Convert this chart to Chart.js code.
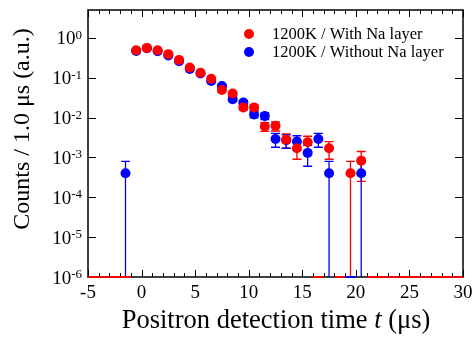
<!DOCTYPE html>
<html>
<head>
<meta charset="utf-8">
<script src="https://cdn.jsdelivr.net/npm/chart.js@4.4.1/dist/chart.umd.min.js"></script>
<style>
  html, body { margin: 0; padding: 0; background: #fff; }
</style>
</head>
<body>
<canvas id="chart" width="476" height="343"></canvas>
<script>
// bin centres (1.0 us bins)
const binCenters = [
  -4.5, -3.5, -2.5, -1.5, -0.5, 0.5, 1.5, 2.5, 3.5, 4.5, 5.5, 6.5, 7.5, 8.5,
  9.5, 10.5, 11.5, 12.5, 13.5, 14.5, 15.5, 16.5, 17.5, 18.5, 19.5, 20.5,
  21.5, 22.5, 23.5, 24.5, 25.5, 26.5, 27.5, 28.5, 29.5,
];

// 1200K / With Na layer
const withNa = [
  0, 0, 0, 0, 0.49, 0.56, 0.49, 0.39, 0.28, 0.18, 0.133, 0.094, 0.049, 0.04,
  0.018, 0.018, 0.006, 0.0062, 0.0028, 0.0017, 0.0024, 0, 0.0017, 0, 0.0004, 0.00083,
  0, 0, 0, 0, 0, 0, 0, 0, 0,
];
const withNaErr = [
  0, 0, 0, 0, 0.014, 0.015, 0.014, 0.012, 0.011, 0.0085, 0.0073, 0.0061, 0.0044, 0.004,
  0.0027, 0.0027, 0.0015, 0.0016, 0.0011, 0.0008, 0.001, 0, 0.0008, 0, 0.0004, 0.00058,
  0, 0, 0, 0, 0, 0, 0, 0, 0,
];

// 1200K / Without Na layer
const withoutNa = [
  0, 0, 0, 0.0004, 0.47, 0.55, 0.46, 0.36, 0.26, 0.165, 0.128, 0.083, 0.062, 0.029,
  0.024, 0.012, 0.011, 0.0029, 0.0027, 0.0025, 0.0013, 0.0029, 0.0004, 0, 0, 0.0004,
  0, 0, 0, 0, 0, 0, 0, 0, 0,
];
const withoutNaErr = [
  0, 0, 0, 0.0004, 0.0137, 0.0148, 0.0136, 0.012, 0.0102, 0.0081, 0.0072, 0.0058, 0.005, 0.0034,
  0.0031, 0.0022, 0.0021, 0.0011, 0.001, 0.001, 0.0007, 0.0011, 0.0004, 0, 0, 0.0004,
  0, 0, 0, 0, 0, 0, 0, 0, 0,
];

const xTicks = [-5, 0, 5, 10, 15, 20, 25, 30];
const yExponents = [0, -1, -2, -3, -4, -5, -6];
const yMin = 1e-6;
const yMax = 5;

const SERIF = '"Liberation Serif", "Times New Roman", serif';

// zero-count bins sit on the axis floor
const toPoints = (values) =>
  values.map((v, i) => ({ x: binCenters[i], y: v > 0 ? v : yMin }));

const makeDataset = (label, values, errors, color) => ({
  label,
  data: toPoints(values),
  errors,
  values,
  backgroundColor: color,
  borderColor: color,
  pointStyle: (ctx) => (values[ctx.dataIndex] === 0 ? 'line' : 'circle'),
  pointRadius: 5,
  pointBorderWidth: (ctx) => (values[ctx.dataIndex] === 0 ? 2 : 0),
  pointHoverRadius: 5,
  clip: false,
});

const framePlugin = {
  id: 'frame',
  beforeDatasetsDraw(chart) {
    const { ctx, chartArea: a, scales } = chart;
    const x = scales.x;
    const y = scales.y;
    ctx.save();

    // box
    ctx.strokeStyle = '#000';
    ctx.lineWidth = 1.5;
    ctx.strokeRect(a.left, a.top, a.right - a.left, a.bottom - a.top);

    // x ticks, inward on bottom and top
    ctx.lineWidth = 1;
    for (let v = -5; v <= 30; v++) {
      const px = Math.round(x.getPixelForValue(v)) + 0.5;
      const len = v % 5 === 0 ? 7 : 4;
      ctx.beginPath();
      ctx.moveTo(px, a.bottom);
      ctx.lineTo(px, a.bottom - len);
      ctx.moveTo(px, a.top);
      ctx.lineTo(px, a.top + len);
      ctx.stroke();
    }
    // y ticks, inward on left and right
    yExponents.forEach((e) => {
      const py = Math.round(y.getPixelForValue(Math.pow(10, e))) + 0.5;
      ctx.beginPath();
      ctx.moveTo(a.left, py);
      ctx.lineTo(a.left + 8, py);
      ctx.moveTo(a.right, py);
      ctx.lineTo(a.right - 8, py);
      ctx.stroke();
    });

    // error bars
    chart.data.datasets.forEach((ds, di) => {
      const meta = chart.getDatasetMeta(di);
      ctx.strokeStyle = ds.borderColor;
      ctx.lineWidth = 1.3;
      ds.values.forEach((v, i) => {
        const err = ds.errors[i];
        if (!(v > 0) || !(err > 0)) return;
        const px = meta.data[i].x;
        const yTop = y.getPixelForValue(v + err);
        const lower = v - err;
        const hasLow = lower > yMin;
        const yBot = hasLow ? y.getPixelForValue(lower) : a.bottom;
        ctx.beginPath();
        ctx.moveTo(px, yTop);
        ctx.lineTo(px, yBot);
        ctx.moveTo(px - 4.5, yTop);
        ctx.lineTo(px + 4.5, yTop);
        if (hasLow) {
          ctx.moveTo(px - 4.5, yBot);
          ctx.lineTo(px + 4.5, yBot);
        }
        ctx.stroke();
      });
    });
    ctx.restore();
  },
  afterDraw(chart) {
    const { ctx, chartArea: a, scales } = chart;
    const x = scales.x;
    const y = scales.y;
    ctx.save();
    ctx.fillStyle = '#000';

    // x tick labels
    ctx.font = '19px ' + SERIF;
    ctx.textAlign = 'center';
    ctx.textBaseline = 'alphabetic';
    xTicks.forEach((t) => {
      ctx.fillText(String(t), x.getPixelForValue(t), 298);
    });

    // y tick labels 10^n
    yExponents.forEach((e) => {
      const py = y.getPixelForValue(Math.pow(10, e));
      const sup = String(e);
      ctx.font = '13px ' + SERIF;
      const supW = ctx.measureText(sup).width;
      ctx.textAlign = 'left';
      ctx.fillText(sup, 82 - supW, py + 1);
      ctx.font = '19px ' + SERIF;
      ctx.textAlign = 'right';
      ctx.fillText('10', 82 - supW, py + 6.5);
    });

    // x axis title with italic t
    const parts = [
      ['Positron detection time ', '26.5px ' + SERIF],
      ['t', 'italic 26.5px ' + SERIF],
      [' (μs)', '26.5px ' + SERIF],
    ];
    let total = 0;
    parts.forEach(([s, f]) => {
      ctx.font = f;
      total += ctx.measureText(s).width;
    });
    let cx = 276 - total / 2;
    ctx.textAlign = 'left';
    parts.forEach(([s, f]) => {
      ctx.font = f;
      ctx.fillText(s, cx, 328);
      cx += ctx.measureText(s).width;
    });

    // y axis title
    ctx.save();
    ctx.translate(29, 129);
    ctx.rotate(-Math.PI / 2);
    ctx.font = '24px ' + SERIF;
    ctx.textAlign = 'center';
    ctx.fillText('Counts / 1.0 μs (a.u.)', 0, 0);
    ctx.restore();

    // legend
    ctx.font = '16.5px ' + SERIF;
    ctx.textAlign = 'left';
    ctx.textBaseline = 'middle';
    chart.data.datasets.forEach((ds, i) => {
      const ly = 34 + i * 18;
      ctx.fillStyle = ds.backgroundColor;
      ctx.beginPath();
      ctx.arc(249, ly, 5, 0, Math.PI * 2);
      ctx.fill();
      ctx.fillStyle = '#000';
      ctx.fillText(ds.label, 272, ly + 1);
    });
    ctx.restore();
  },
};

new Chart(document.getElementById('chart'), {
  type: 'scatter',
  data: {
    datasets: [
      makeDataset('1200K / With Na layer', withNa, withNaErr, '#ff0000'),
      makeDataset('1200K / Without Na layer', withoutNa, withoutNaErr, '#0000ff'),
    ],
  },
  options: {
    responsive: false,
    devicePixelRatio: 1,
    animation: false,
    layout: { padding: { left: 88, right: 13, top: 10, bottom: 66 } },
    scales: {
      x: { type: 'linear', min: -5, max: 30, display: false },
      y: { type: 'logarithmic', min: yMin, max: yMax, display: false },
    },
    plugins: {
      legend: { display: false },
      tooltip: { enabled: false },
    },
  },
  plugins: [framePlugin],
});
</script>
</body>
</html>
